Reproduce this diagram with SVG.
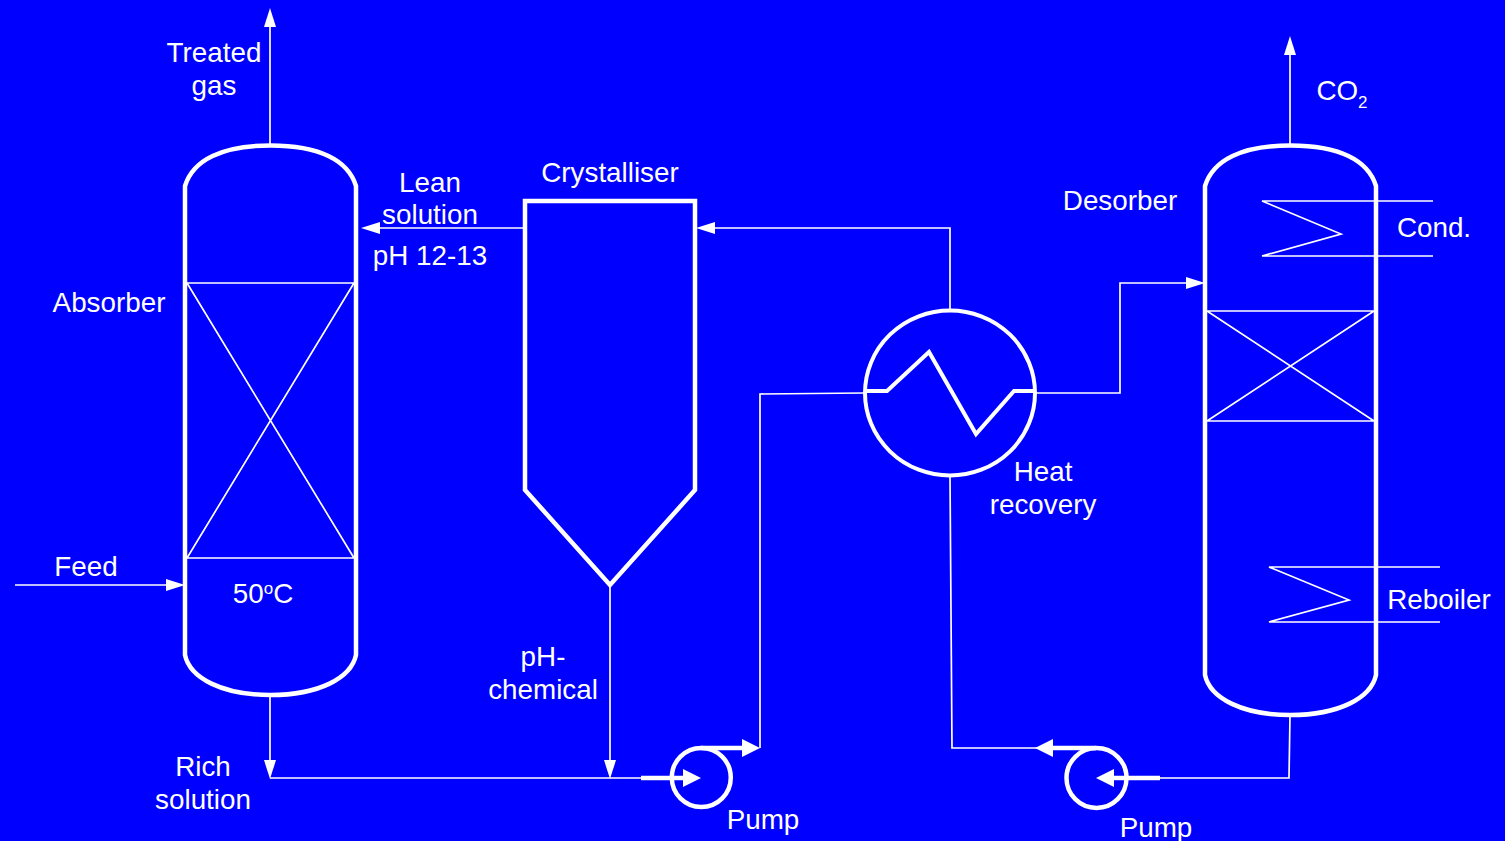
<svg xmlns="http://www.w3.org/2000/svg" width="1505" height="841" viewBox="0 0 1505 841">
<style>
text{font-family:"Liberation Sans",Arial,sans-serif;font-size:27.8px;fill:#fff;text-anchor:middle}
.t{fill:none;stroke:#fff;stroke-width:4}
.h{fill:none;stroke:#fff;stroke-width:4.5}
.c{fill:none;stroke:#fff;stroke-width:1.7}
.p{fill:none;stroke:#fff;stroke-width:4.5}
.a{fill:#fff;stroke:none}
</style>
<rect width="1505" height="841" fill="#0000ff"/>
<g id="connectors">
<path class="c" d="M270 145V20"/><polygon class="a" points="270,8 264,27 276,27"/>
<path class="c" d="M1290 145V50"/><polygon class="a" points="1290,36 1284,55 1296,55"/>
<path class="c" d="M524 228H375"/><polygon class="a" points="361,228 380,222 380,234"/>
<path class="c" d="M950 310V228H710"/><polygon class="a" points="696,228 715,222 715,234"/>
<path class="c" d="M1036 393H1120V283H1190"/><polygon class="a" points="1205,283 1186,277 1186,289"/>
<path class="c" d="M15 585H170"/><polygon class="a" points="185,585 166,579 166,591"/>
<path class="c" d="M270 696V765"/><polygon class="a" points="270,779 264,760 276,760"/>
<path class="c" d="M610 586V765"/><polygon class="a" points="610,779 604,760 616,760"/>
<path class="c" d="M270 778H642"/>
<path class="c" d="M864 393L760 394V748"/>
<path class="c" d="M950 476L952 748H1040"/>
<path class="c" d="M1290 716L1289 778H1160"/>
</g>
<g id="absorber">
<path class="h" d="M185 186C193 160 222 145.500 270.500 145.500C319 145.500 348 160 356 186V655C351 678 319 695 270.500 695C222 695 190 678 185 655Z"/>
<path class="c" d="M185 283H356M185 558H356M187 283L354 558M354 283L187 558"/>
<text x="109" y="311.500">Absorber</text>
<text x="263" y="602.500">50<tspan dy="-9" font-size="17">o</tspan><tspan dy="9">C</tspan></text>
</g>
<g id="crystalliser">
<path class="h" d="M525 201H695V490L610 585L525 490Z"/>
<text x="610" y="181.500">Crystalliser</text>
</g>
<g id="heat-exchanger">
<ellipse class="t" cx="950" cy="393" rx="85" ry="82.500"/>
<path class="t" d="M866 391H887L929 352L976 434L1014 391H1034"/>
<text x="1043" y="480.500">Heat</text>
<text x="1043" y="513.500">recovery</text>
</g>
<g id="desorber">
<path class="h" d="M1205 186C1213 160 1242 145.500 1290.500 145.500C1339 145.500 1368 160 1376 186V675C1371 698 1339 715 1290.500 715C1242 715 1210 698 1205 675Z"/>
<path class="c" d="M1205 311H1376M1205 421H1376M1207 311L1374 421M1374 311L1207 421"/>
<path class="c" d="M1433 201H1262L1341 234L1262 256H1433"/>
<path class="c" d="M1440 567H1269L1349 600L1269 622H1440"/>
<text x="1120" y="209.500">Desorber</text>
<text x="1434" y="236.500">Cond.</text>
<text x="1439" y="608.500">Reboiler</text>
</g>
<g id="pump-1">
<circle class="p" cx="701.300" cy="777.500" r="29.500"/>
<path class="p" d="M641 778H690M701 748H745"/>
<polygon class="a" points="701,778 683,769 683,787"/>
<polygon class="a" points="760,748 742,739 742,757"/>
<text x="763" y="828.500">Pump</text>
</g>
<g id="pump-2">
<circle class="p" cx="1096.500" cy="778" r="30"/>
<path class="p" d="M1160 778H1108M1096 748H1048"/>
<polygon class="a" points="1096,778 1114,769 1114,787"/>
<polygon class="a" points="1035,748 1053,739 1053,757"/>
<text x="1156" y="836.500">Pump</text>
</g>
<g id="labels">
<text x="214" y="61.500">Treated</text>
<text x="214" y="94.500">gas</text>
<text x="1342" y="99.500">CO<tspan dy="8" font-size="17">2</tspan></text>
<text x="430" y="191.500">Lean</text>
<text x="430" y="223.500">solution</text>
<text x="430" y="264.500">pH 12-13</text>
<text x="86" y="575.500">Feed</text>
<text x="543" y="665.500">pH-</text>
<text x="543" y="698.500">chemical</text>
<text x="203" y="775.500">Rich</text>
<text x="203" y="808.500">solution</text>
</g>
</svg>
